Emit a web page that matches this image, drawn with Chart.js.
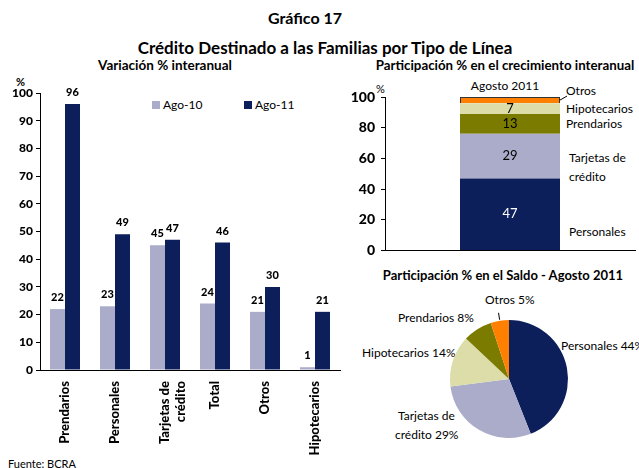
<!DOCTYPE html>
<html>
<head>
<meta charset="utf-8">
<script src="https://cdn.jsdelivr.net/npm/chart.js@4/dist/chart.umd.min.js"></script>
<style>
  body { margin: 0; background: #fff; }
  #wrap { position: relative; width: 639px; height: 468px; overflow: hidden; font-family: Lato, sans-serif; color: #000; }
  .t { position: absolute; white-space: nowrap; line-height: 1; }
  .c { transform: translateX(-50%); }
  .b { font-weight: bold; }
  canvas { position: absolute; }
  .sq { position: absolute; width: 8px; height: 8px; }
</style>
</head>
<body>
<div id="wrap">
  <div class="t c b" style="left:305px; top:10px; font-size:16px;">Gráfico 17</div>
  <div class="t c b" style="left:325px; top:39px; font-size:17px;">Crédito Destinado a las Familias por Tipo de Línea</div>
  <div class="t c b" style="left:165px; top:59px; font-size:13.5px;">Variación % interanual</div>
  <div class="t c b" style="left:505px; top:59px; font-size:13.3px;">Participación % en el crecimiento interanual</div>
  <div class="t b" style="left:16px; top:76px; font-size:11px;">%</div>
  <div class="t" style="left:376px; top:83px; font-size:11px;">%</div>

  <div class="sq" style="left:152px; top:101px; background:#ABACC9;"></div>
  <div class="t" style="left:163px; top:99px; font-size:12px;">Ago-10</div>
  <div class="sq" style="left:244px; top:101px; background:#0C1F5B;"></div>
  <div class="t" style="left:255px; top:99px; font-size:12px;">Ago-11</div>

  <div class="t c" style="left:505px; top:80px; font-size:12px;">Agosto 2011</div>
  <div class="t" style="left:566px; top:85px; font-size:12px;">Otros</div>
  <div class="t" style="left:566px; top:103px; font-size:12px;">Hipotecarios</div>
  <div class="t" style="left:566px; top:118px; font-size:12px;">Prendarios</div>
  <div class="t" style="left:569px; top:152px; font-size:12px;">Tarjetas de</div>
  <div class="t" style="left:569px; top:171px; font-size:12px;">crédito</div>
  <div class="t" style="left:569px; top:226px; font-size:12px;">Personales</div>

  <div class="t c b" style="left:503px; top:269px; font-size:13px;">Participación % en el Saldo - Agosto 2011</div>
  <div class="t" style="left:485px; top:294px; font-size:12px;">Otros 5%</div>
  <div class="t" style="left:398px; top:312px; font-size:12px;">Prendarios 8%</div>
  <div class="t" style="left:362px; top:347px; font-size:12px;">Hipotecarios 14%</div>
  <div class="t" style="left:561px; top:340px; font-size:12px;">Personales 44%</div>
  <div class="t" style="left:398px; top:410px; font-size:12px;">Tarjetas de</div>
  <div class="t" style="left:395px; top:429px; font-size:12px;">crédito 29%</div>

  <div class="t" style="left:8px; top:458px; font-size:11px;">Fuente: BCRA</div>

  <canvas id="barChart" width="342" height="385" style="left:0; top:80px;"></canvas>
  <canvas id="stackChart" width="294" height="205" style="left:345px; top:60px;"></canvas>
  <canvas id="pieChart" width="158" height="158" style="left:430px; top:300px;"></canvas>
</div>
<script>
const NAVY = '#0C1F5B';
const LAV = '#ABACC9';
const OLIVE = '#7B7B00';
const PALE = '#DCDDA9';
const ORANGE = '#FF8000';

// Variación % interanual
const categories = ['Prendarios', 'Personales', ['Tarjetas de', 'crédito'], 'Total', 'Otros', 'Hipotecarios'];
const ago10 = [22, 23, 45, 24, 21, 1];
const ago11 = [96, 49, 47, 46, 30, 21];

// Participación % en el crecimiento interanual (Agosto 2011)
const stackNames = ['Personales', 'Tarjetas de crédito', 'Prendarios', 'Hipotecarios', 'Otros'];
const stackValues = [47, 29, 13, 7, 4];

// Participación % en el Saldo - Agosto 2011
const pieNames = ['Personales', 'Tarjetas de crédito', 'Hipotecarios', 'Prendarios', 'Otros'];
const pieValues = [44, 29, 14, 8, 5];

const heavy = (size) => ({family: 'Lato', weight: '900', size: size});

const barLabels = {
  id: 'barLabels',
  afterDatasetsDraw(chart) {
    const ctx = chart.ctx;
    ctx.save();
    ctx.font = '900 11px Lato';
    ctx.fillStyle = '#000';
    ctx.textAlign = 'center';
    ctx.textBaseline = 'bottom';
    chart.data.datasets.forEach((ds, i) => {
      chart.getDatasetMeta(i).data.forEach((bar, j) => {
        ctx.fillText(ds.data[j], bar.x, bar.y - 6);
      });
    });
    ctx.restore();
  }
};

const stackLabels = {
  id: 'stackLabels',
  afterDatasetsDraw(chart) {
    const ctx = chart.ctx;
    ctx.save();
    ctx.font = '13px Lato';
    ctx.textAlign = 'center';
    ctx.textBaseline = 'middle';
    chart.data.datasets.forEach((ds, i) => {
      const el = chart.getDatasetMeta(i).data[0];
      if (ds.label === 'Otros') {
        const x0 = el.x + el.width / 2;
        const y0 = (el.y + el.base) / 2;
        ctx.strokeStyle = '#000';
        ctx.lineWidth = 1;
        ctx.beginPath();
        ctx.moveTo(x0, y0);
        ctx.lineTo(x0 + 7, y0 - 4);
        ctx.stroke();
        return;
      }
      ctx.fillStyle = i === 0 ? '#fff' : '#000';
      ctx.fillText(ds.data[0], el.x, (el.y + el.base) / 2);
    });
    ctx.restore();
  }
};

const pieLeader = {
  id: 'pieLeader',
  afterDatasetsDraw(chart) {
    const arc = chart.getDatasetMeta(0).data[pieNames.indexOf('Otros')];
    const mid = (arc.startAngle + arc.endAngle) / 2;
    const ctx = chart.ctx;
    ctx.save();
    ctx.strokeStyle = '#000';
    ctx.lineWidth = 1;
    ctx.beginPath();
    ctx.moveTo(arc.x + Math.cos(mid) * (arc.outerRadius + 1), arc.y + Math.sin(mid) * (arc.outerRadius + 1));
    ctx.lineTo(arc.x + Math.cos(mid) * (arc.outerRadius + 8), arc.y + Math.sin(mid) * (arc.outerRadius + 8));
    ctx.stroke();
    ctx.restore();
  }
};

function drawCharts() {
  new Chart(document.getElementById('barChart'), {
    type: 'bar',
    data: {
      labels: categories,
      datasets: [
        {label: 'Ago-10', data: ago10, backgroundColor: LAV},
        {label: 'Ago-11', data: ago11, backgroundColor: NAVY}
      ]
    },
    options: {
      responsive: false,
      animation: false,
      layout: {padding: {top: 13, right: 2}},
      datasets: {bar: {categoryPercentage: 0.6, barPercentage: 1}},
      plugins: {legend: {display: false}, tooltip: {enabled: false}},
      scales: {
        x: {
          grid: {display: false, drawTicks: false},
          border: {color: '#000'},
          ticks: {minRotation: 90, maxRotation: 90, color: '#000', font: heavy(13), padding: 11},
          afterFit(s) { s.height = 95; }
        },
        y: {
          min: 0, max: 100,
          grid: {drawOnChartArea: false, tickLength: 4, color: '#000'},
          border: {color: '#000'},
          ticks: {stepSize: 10, color: '#000', font: heavy(12)},
          afterFit(s) { s.width = 40; }
        }
      }
    },
    plugins: [barLabels]
  });

  const stackColors = [NAVY, LAV, OLIVE, PALE, ORANGE];
  new Chart(document.getElementById('stackChart'), {
    type: 'bar',
    data: {
      labels: ['Agosto 2011'],
      datasets: stackNames.map((n, i) => ({
        label: n,
        data: [stackValues[i]],
        backgroundColor: stackColors[i],
        borderColor: '#333',
        borderWidth: n === 'Otros' ? 1 : 0
      }))
    },
    options: {
      responsive: false,
      animation: false,
      layout: {padding: {top: 37, right: 4, bottom: 0}},
      datasets: {bar: {categoryPercentage: 0.4, barPercentage: 1}},
      plugins: {legend: {display: false}, tooltip: {enabled: false}},
      scales: {
        x: {
          stacked: true,
          grid: {display: false, drawTicks: false},
          border: {color: '#000'},
          ticks: {display: false},
          afterFit(s) { s.height = 9; }
        },
        y: {
          stacked: true,
          min: 0, max: 100,
          grid: {drawOnChartArea: false, tickLength: 4, color: '#000'},
          border: {color: '#000'},
          ticks: {stepSize: 20, color: '#000', font: heavy(14), padding: 6},
          afterFit(s) { s.width = 40; }
        }
      }
    },
    plugins: [stackLabels]
  });

  new Chart(document.getElementById('pieChart'), {
    type: 'pie',
    data: {
      labels: pieNames,
      datasets: [{
        data: pieValues,
        backgroundColor: [NAVY, LAV, PALE, OLIVE, ORANGE],
        borderWidth: 0
      }]
    },
    options: {
      responsive: false,
      animation: false,
      layout: {padding: 20},
      plugins: {legend: {display: false}, tooltip: {enabled: false}}
    },
    plugins: [pieLeader]
  });
}

Promise.all([
  document.fonts.load('900 12px Lato'),
  document.fonts.load('bold 12px Lato'),
  document.fonts.load('12px Lato')
]).then(drawCharts, drawCharts);
</script>
</body>
</html>
